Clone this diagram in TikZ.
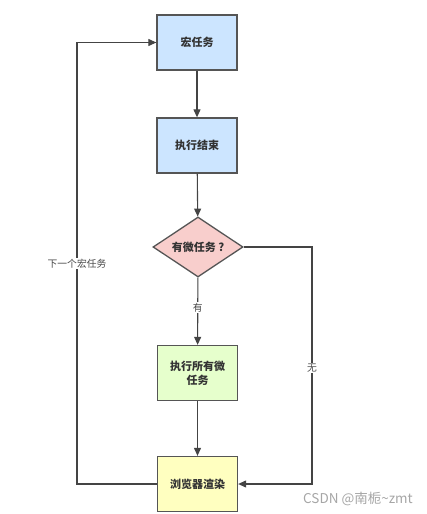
\documentclass[tikz,border=0pt]{standalone}
\usepackage{fontspec}
\setmainfont{Noto Sans CJK SC}
\usetikzlibrary{shapes.geometric,arrows.meta}
\definecolor{bluef}{HTML}{CCE5FF}
\definecolor{pinkf}{HTML}{F8CECC}
\definecolor{greenf}{HTML}{E6FFCC}
\definecolor{yellowf}{HTML}{FFFFC0}
\definecolor{edgec}{HTML}{444444}
\definecolor{borderc}{HTML}{555555}
\definecolor{textc}{HTML}{333333}
\tikzset{
  box/.style={draw=borderc, line width=1.3pt, minimum width=80pt, minimum height=55pt,
    inner sep=2pt, align=center, text=textc, font=\fontsize{11}{14}\selectfont\bfseries, text width=70pt},
  dia/.style={diamond, draw=borderc, line width=1.3pt, fill=pinkf, aspect=1.5,
    minimum width=90pt, minimum height=60pt, inner sep=0pt, text=textc,
    font=\fontsize{11}{14}\selectfont\bfseries},
  conn/.style={draw=edgec, line width=1.1pt, -{Triangle[length=8pt,width=7pt]}},
  elabel/.style={fill=white, inner sep=1pt, text=textc!90, font=\fontsize{9.8}{11}\selectfont}
}
\begin{document}
\begin{tikzpicture}[x=1pt,y=-1pt]
\useasboundingbox (0,0) rectangle (427,514);
\node[box, fill=bluef] (macro) at (197,42.5) {宏任务};
\node[box, fill=bluef] (endexec) at (197,145.5) {执行结束};
\node[dia] (q) at (198,247) {有微任务 ?};
\node[box, fill=greenf] (micro) at (197.5,373) {执行所有微\\任务};
\node[box, fill=yellowf] (render) at (197.5,484) {浏览器渲染};
\coordinate (r1) at (312,247);
\coordinate (r2) at (312,484);
\coordinate (l1) at (77,484);
\coordinate (l2) at (77,42.5);
\draw[conn] (macro) -- (endexec);
\draw[conn] (endexec) -- (q);
\draw[conn] (q) -- node[elabel, pos=0.45] {有} (micro);
\draw[conn] (micro) -- (render);
\draw[conn] (q.east) -- (r1) -- node[elabel, pos=0.51] {无} (r2) -- (render.east);
\draw[conn] (render.west) -- (l1) -- node[elabel, pos=0.5] {下一个宏任务} (l2) -- (macro.west);
\node[anchor=west, text=gray!70, font=\fontsize{13.5}{15}\selectfont, inner sep=0pt] (wm) at (303,499) {CSDN @南栀\textasciitilde zmt};
\end{tikzpicture}
\end{document}
